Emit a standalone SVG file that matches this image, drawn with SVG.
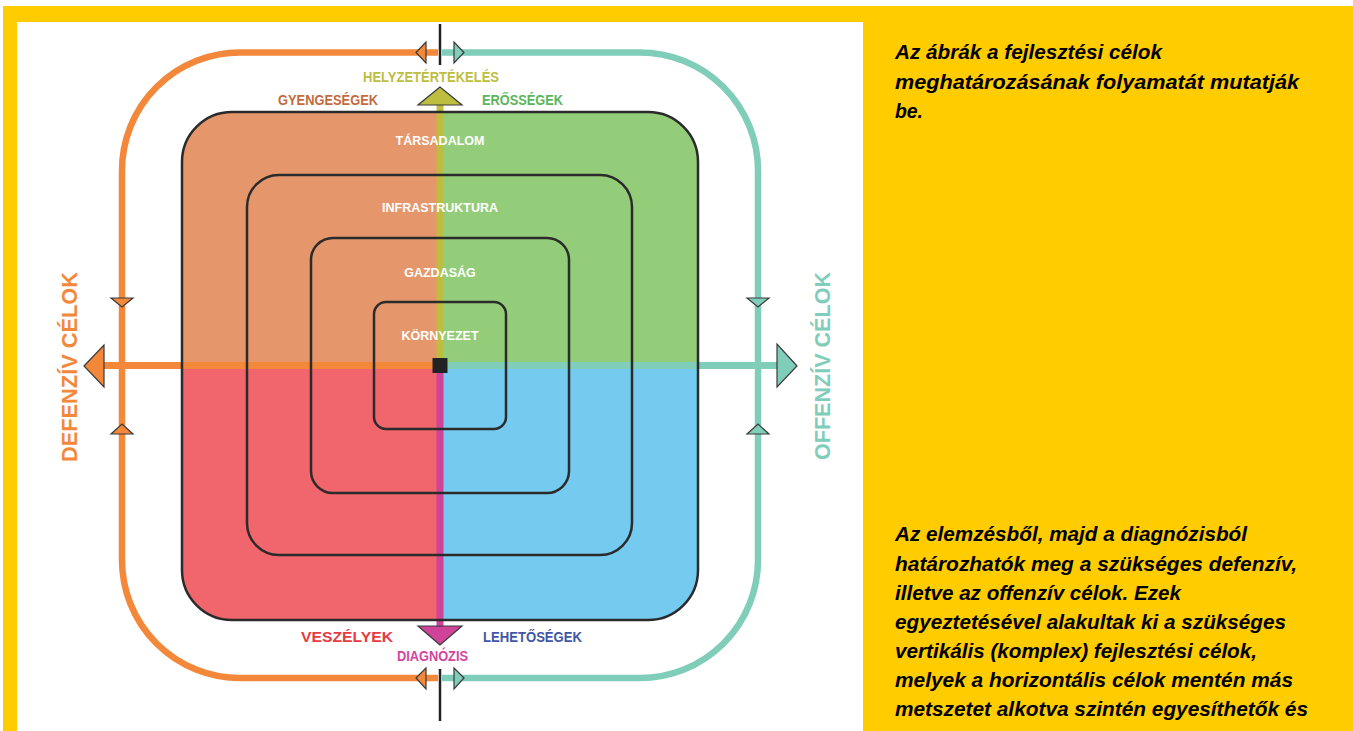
<svg xmlns="http://www.w3.org/2000/svg" width="1353" height="731" viewBox="0 0 1353 731">
<style>
.lbl{font-family:"Liberation Sans",Arial,sans-serif;font-weight:bold;text-anchor:middle}
.in{fill:#ffffff;font-size:12.5px}
.sq{fill:none;stroke:#2b2b2b;stroke-width:2.5}
.tri{stroke:#3a3a3a;stroke-width:1.2;stroke-linejoin:miter}
.para{font-family:"Liberation Sans",Arial,sans-serif;font-weight:bold;font-style:italic;font-size:20px;fill:#000}
</style>
<defs>
<clipPath id="outerClip"><rect x="182" y="112" width="516" height="508" rx="50" ry="50"/></clipPath>
</defs>
<rect x="0" y="0" width="1353" height="731" fill="#ffffff"/>
<rect x="3" y="6" width="1350" height="725" fill="#FFCC00"/>
<rect x="17" y="22" width="846" height="709" fill="#ffffff"/>

<g id="quadrants" clip-path="url(#outerClip)">
<rect x="182" y="112" width="258" height="254" fill="#E5976B"/>
<rect x="440" y="112" width="258" height="254" fill="#94CD7A"/>
<rect x="182" y="366" width="258" height="254" fill="#F0666C"/>
<rect x="440" y="366" width="258" height="254" fill="#74CBEF"/>
</g>

<g id="connectors">
<path d="M438 52.5 H240 A118 118 0 0 0 122 170.5 V560 A118 118 0 0 0 240 678 H438" fill="none" stroke="#F4883A" stroke-width="6.5"/>
<path d="M442 52.5 H640 A118 118 0 0 1 758 170.5 V560 A118 118 0 0 1 640 678 H442" fill="none" stroke="#80CDBA" stroke-width="6.5"/>
<rect x="100" y="362" width="340" height="7" fill="#F4883A"/>
<rect x="440" y="362" width="340" height="7" fill="#80CDBA"/>
<rect x="436.5" y="100" width="7" height="265.5" fill="#BDBE40"/>
<rect x="436.5" y="365.5" width="7" height="264" fill="#CF4399"/>
<line x1="440" y1="24" x2="440" y2="65" stroke="#222" stroke-width="2.5"/>
<line x1="440" y1="669" x2="440" y2="721" stroke="#222" stroke-width="2.5"/>
<polygon class="tri" points="416,52.5 426,42 426,63" fill="#F4883A"/>
<polygon class="tri" points="464,52.5 454,42 454,63" fill="#80CDBA"/>
<polygon class="tri" points="416,678 426,668 426,689" fill="#F4883A"/>
<polygon class="tri" points="464,678 454,668 454,689" fill="#80CDBA"/>
<polygon class="tri" points="111,298 133,298 122,307" fill="#F4883A"/>
<polygon class="tri" points="111,434 133,434 122,424" fill="#F4883A"/>
<polygon class="tri" points="747,298 769,298 758,307" fill="#80CDBA"/>
<polygon class="tri" points="747,434 769,434 758,424" fill="#80CDBA"/>
<polygon class="tri" points="84,366 104,345 104,387" fill="#F4883A"/>
<polygon class="tri" points="797,366 777,344 777,387" fill="#80CDBA"/>
<polygon class="tri" points="440,87 418,105 462,105" fill="#BDBE40"/>
<polygon class="tri" points="440,645 418,626 462,626" fill="#CF4399"/>
</g>

<g id="node-tarsadalom">
<rect class="sq" x="182" y="112" width="516" height="508" rx="50" ry="50"/>
<text class="lbl in" x="440" y="144.5">TÁRSADALOM</text>
</g>
<g id="node-infrastruktura">
<rect class="sq" x="247" y="175" width="385" height="380" rx="32" ry="32"/>
<text class="lbl in" x="440" y="212">INFRASTRUKTURA</text>
</g>
<g id="node-gazdasag">
<rect class="sq" x="311" y="238" width="258" height="255" rx="22" ry="22"/>
<text class="lbl in" x="440" y="277">GAZDASÁG</text>
</g>
<g id="node-kornyezet">
<rect class="sq" x="374" y="302" width="132" height="127" rx="12" ry="12"/>
<text class="lbl in" x="440" y="340">KÖRNYEZET</text>
</g>
<g id="node-center">
<rect x="432.5" y="358" width="15" height="15" fill="#222"/>
</g>

<g id="labels">
<text class="lbl" x="431" y="82" font-size="14" fill="#BDBE40" textLength="136" lengthAdjust="spacingAndGlyphs">HELYZETÉRTÉKELÉS</text>
<text class="lbl" x="328" y="105" font-size="14" fill="#C46A3E" textLength="100" lengthAdjust="spacingAndGlyphs">GYENGESÉGEK</text>
<text class="lbl" x="522.5" y="105" font-size="14.5" fill="#5BB55B" textLength="81" lengthAdjust="spacingAndGlyphs">ERŐSSÉGEK</text>
<text class="lbl" x="347" y="642" font-size="15.5" fill="#E83A43" textLength="92" lengthAdjust="spacingAndGlyphs">VESZÉLYEK</text>
<text class="lbl" x="532.5" y="642" font-size="15" fill="#4157A6" textLength="99" lengthAdjust="spacingAndGlyphs">LEHETŐSÉGEK</text>
<text class="lbl" x="432.5" y="661" font-size="14" fill="#D3449C" textLength="71" lengthAdjust="spacingAndGlyphs">DIAGNÓZIS</text>
<text class="lbl" transform="translate(77,367) rotate(-90)" font-size="22" fill="#F4883A" textLength="190" lengthAdjust="spacingAndGlyphs">DEFENZÍV CÉLOK</text>
<text class="lbl" transform="translate(830,366) rotate(-90)" font-size="22" fill="#80CDBA" textLength="188" lengthAdjust="spacingAndGlyphs">OFFENZÍV CÉLOK</text>
</g>

<g id="text-top">
<text class="para" x="895" y="59" textLength="267" lengthAdjust="spacingAndGlyphs">Az ábrák a fejlesztési célok</text>
<text class="para" x="895" y="88.5" textLength="404" lengthAdjust="spacingAndGlyphs">meghatározásának folyamatát mutatják</text>
<text class="para" x="895" y="118" textLength="28" lengthAdjust="spacingAndGlyphs">be.</text>
</g>
<g id="text-bottom">
<text class="para" x="895" y="541" textLength="352" lengthAdjust="spacingAndGlyphs">Az elemzésből, majd a diagnózisból</text>
<text class="para" x="895" y="570.5" textLength="402" lengthAdjust="spacingAndGlyphs">határozhatók meg a szükséges defenzív,</text>
<text class="para" x="895" y="600" textLength="286" lengthAdjust="spacingAndGlyphs">illetve az offenzív célok. Ezek</text>
<text class="para" x="895" y="629" textLength="391" lengthAdjust="spacingAndGlyphs">egyeztetésével alakultak ki a szükséges</text>
<text class="para" x="895" y="658" textLength="362" lengthAdjust="spacingAndGlyphs">vertikális (komplex) fejlesztési célok,</text>
<text class="para" x="895" y="687" textLength="398" lengthAdjust="spacingAndGlyphs">melyek a horizontális célok mentén más</text>
<text class="para" x="895" y="716" textLength="413" lengthAdjust="spacingAndGlyphs">metszetet alkotva szintén egyesíthetők és</text>
</g>
</svg>
